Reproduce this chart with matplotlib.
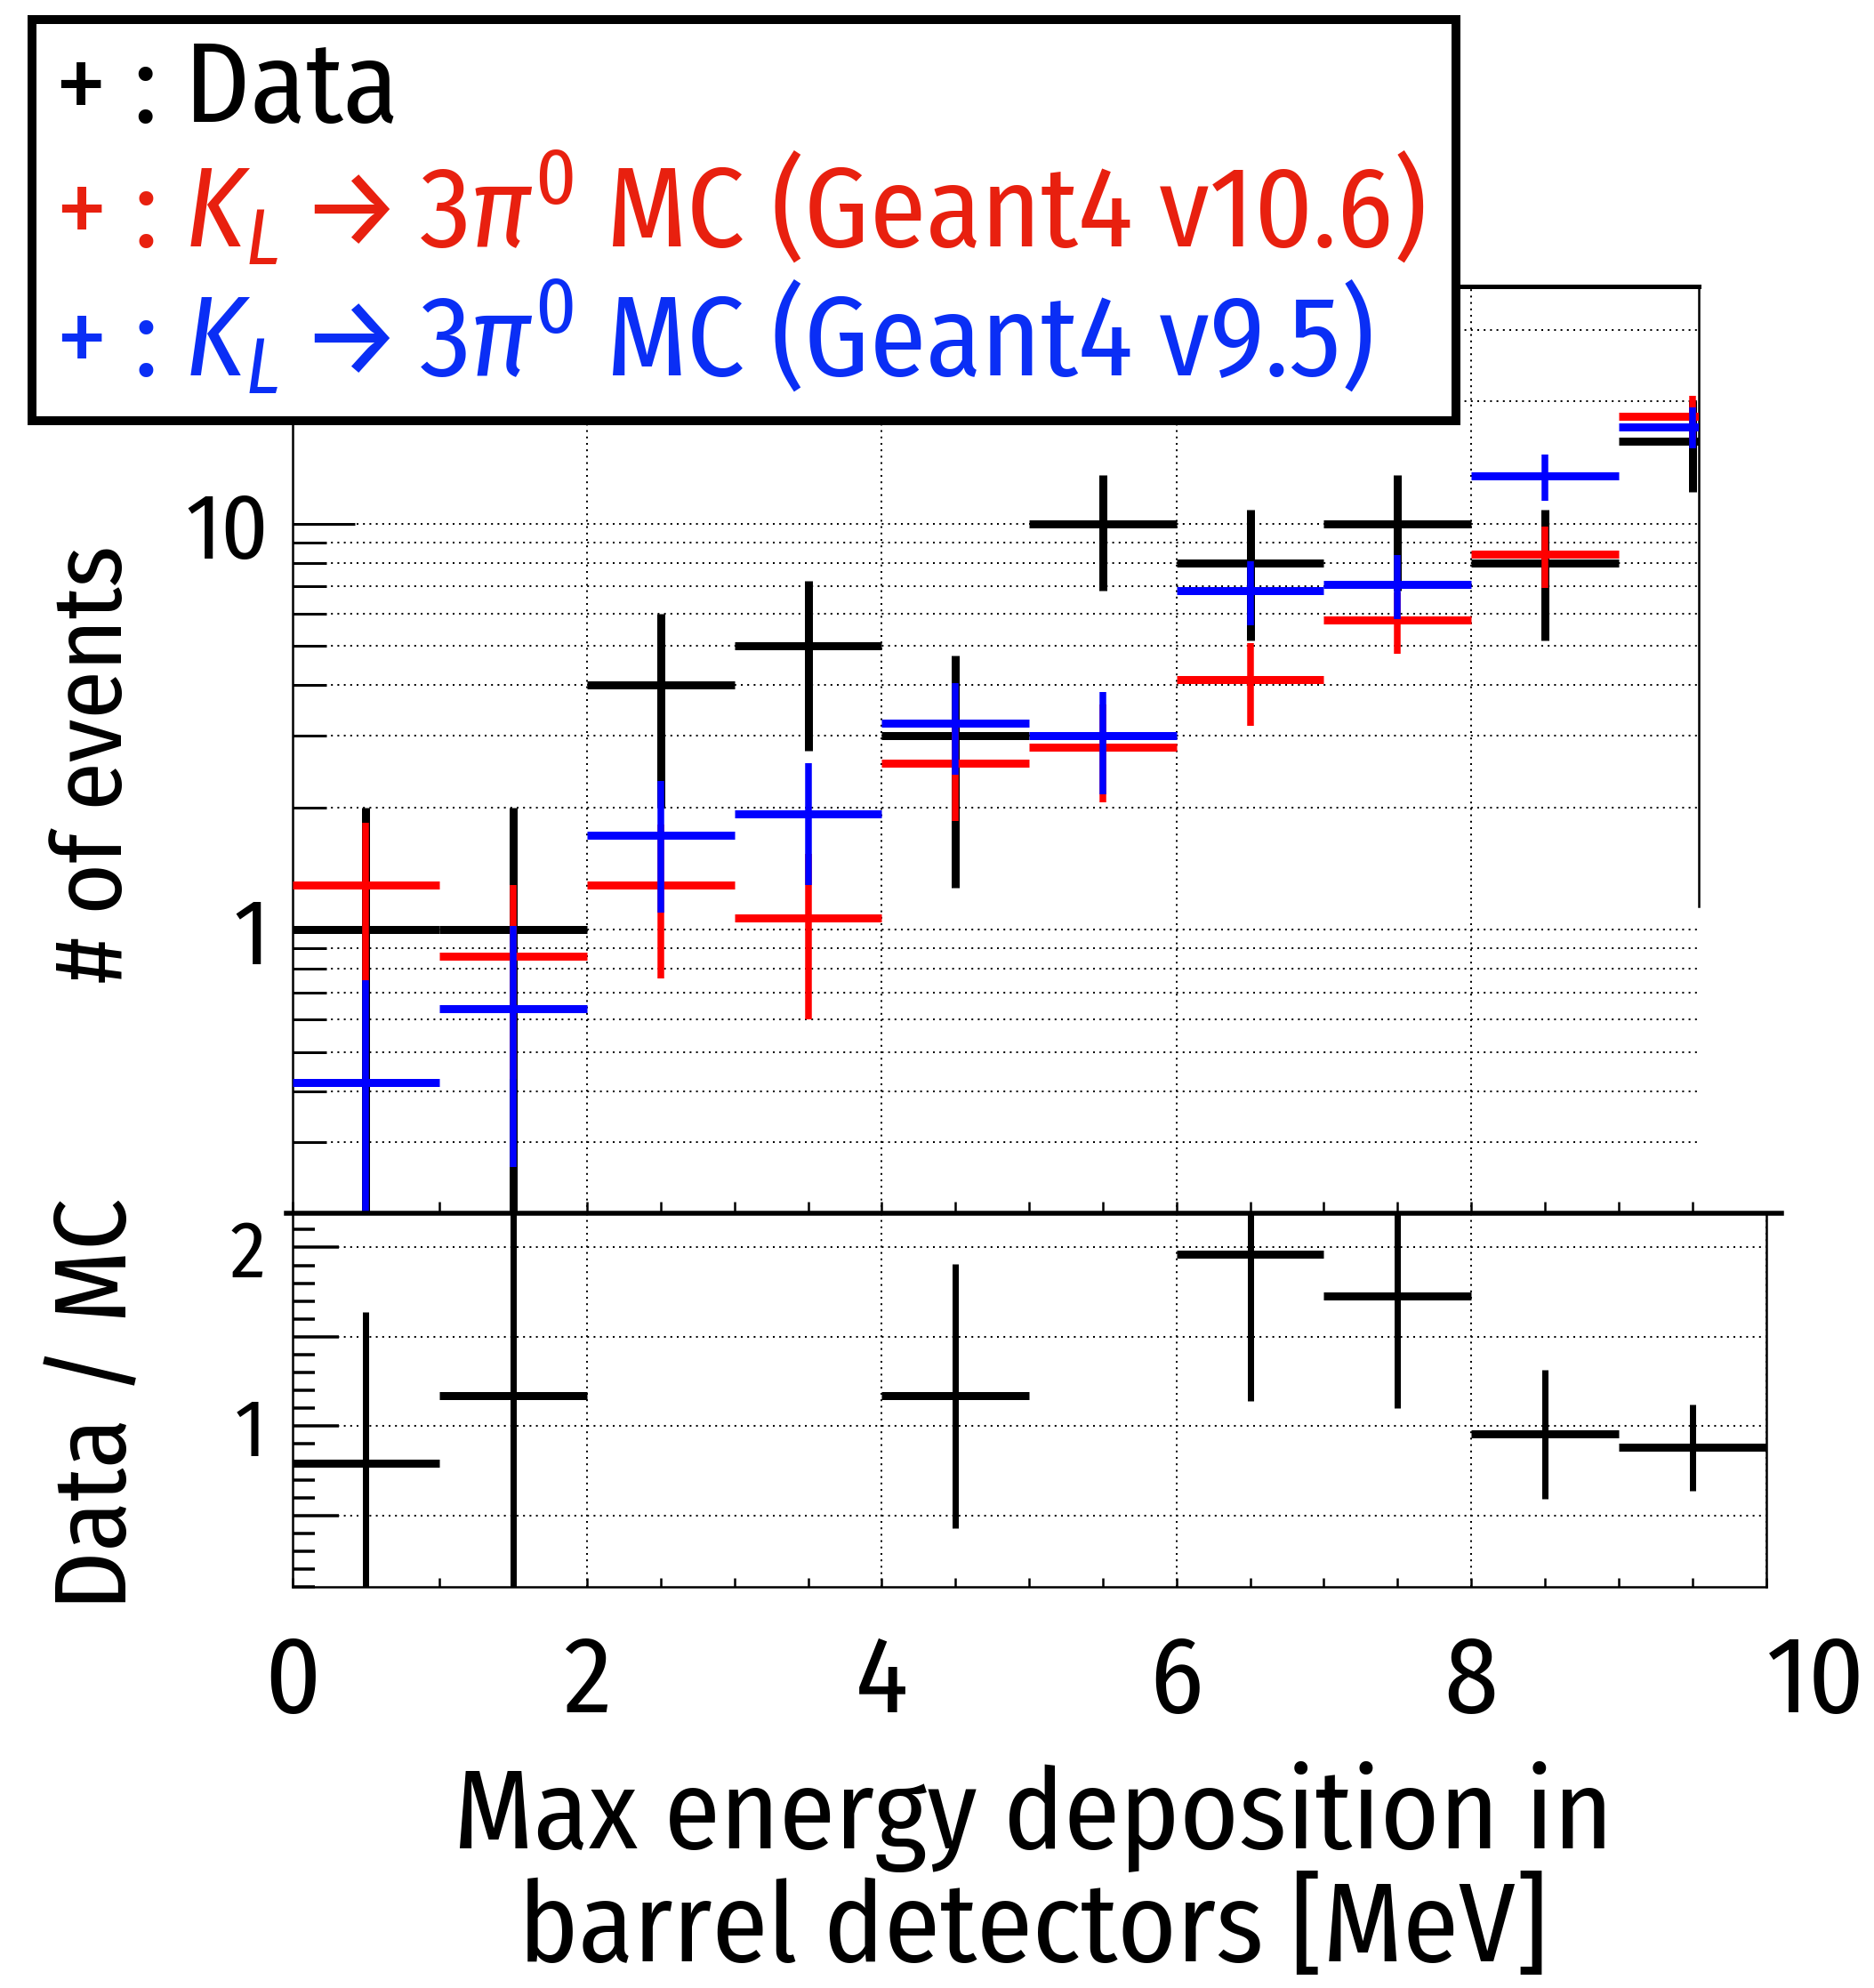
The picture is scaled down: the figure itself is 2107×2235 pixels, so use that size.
import matplotlib
matplotlib.use("Agg")
import matplotlib.pyplot as plt
from matplotlib import font_manager
from matplotlib.ticker import FixedLocator, MultipleLocator, LogLocator, NullFormatter, FuncFormatter
from matplotlib.patches import Rectangle
from matplotlib.lines import Line2D

# ---------------- data ----------------
bin_edges = [0, 1, 2, 3, 4, 5, 6, 7, 8, 9, 10]
data_counts = [1, 1, 4, 5, 3, 10, 8, 10, 8, 16]
data_err = [1.0, 1.0, 2.0, 2.24, 1.73, 3.16, 2.83, 3.16, 2.83, 4.0]
mc_v106 = [1.29, 0.86, 1.29, 1.07, 2.57, 2.82, 4.13, 5.78, 8.4, 18.4]
mc_v106_err = [0.54, 0.43, 0.53, 0.47, 0.72, 0.76, 0.95, 1.0, 1.45, 2.3]
mc_v95 = [0.42, 0.64, 1.71, 1.93, 3.23, 3.0, 6.84, 7.08, 13.1, 17.3]
mc_v95_err = [0.33, 0.38, 0.61, 0.64, 0.82, 0.84, 1.23, 1.27, 1.7, 2.0]
ratio_bins = [0, 1, 4, 6, 7, 8, 9]          # bin indices with a visible ratio point
ratio_vals = [0.79, 1.17, 1.17, 1.96, 1.73, 0.955, 0.88]
ratio_err = [0.85, 1.25, 0.74, 0.82, 0.63, 0.36, 0.24]
legend_labels = ["+ : Data",
                 r"+ : $K_L \rightarrow 3\pi^0$ MC (Geant4 v10.6)",
                 r"+ : $K_L \rightarrow 3\pi^0$ MC (Geant4 v9.5)"]
xlabel_lines = ["Max energy deposition in", "barrel detectors [MeV]"]
ylabel_top = "# of events"
ylabel_ratio = "Data / MC"

# ---------------- fonts ----------------
names = {f.name for f in font_manager.fontManager.ttflist}
FONT = "DejaVu Sans"
for cand in ["Fira Sans Condensed", "Encode Sans Semi Condensed", "Liberation Sans Narrow"]:
    if cand in names:
        FONT = cand
        break
plt.rcParams["font.family"] = [FONT, "DejaVu Sans"]
plt.rcParams["font.weight"] = "normal"
plt.rcParams["mathtext.fontset"] = "custom"
plt.rcParams["mathtext.rm"] = FONT
plt.rcParams["mathtext.it"] = FONT + ":italic"
plt.rcParams["mathtext.bf"] = FONT + ":bold"

W, H, DPI = 2107, 2235, 100
fig = plt.figure(figsize=(W / DPI, H / DPI), dpi=DPI)


def pt(p):
    return p * 72.0 / DPI


def fx(x):
    return x / W


def fy(y):
    return 1 - y / H


X0, X10 = 328.6, 1985.5
TOP_T, MID, BOT = 322.0, 1364.3, 1784.0
TOP_R = 1910.0
unit = (X10 - X0) / 10.0

ax = fig.add_axes([fx(X0), fy(MID), fx(TOP_R - X0), (MID - TOP_T) / H])
axr = fig.add_axes([fx(X0), fy(BOT), fx(X10 - X0), (BOT - MID) / H])

centers = [(a + b) / 2 for a, b in zip(bin_edges[:-1], bin_edges[1:])]
lefts = bin_edges[:-1]
rights = bin_edges[1:]

grid_kw = dict(color="black", lw=pt(2.0), ls=(0, (1.0, 2.6)))


def draw(axis, xs, x0s, x1s, vals, errs, color, lwh, lwv, z):
    lo = [max(v - e, 1e-4) for v, e in zip(vals, errs)]
    hi = [v + e for v, e in zip(vals, errs)]
    axis.vlines(xs, lo, hi, colors=color, lw=pt(lwv), zorder=z)
    axis.hlines(vals, x0s, x1s, colors=color, lw=pt(lwh), zorder=z)


# ---- top panel ----
ax.set_yscale("log")
ax.set_xlim(0, (TOP_R - X0) / unit)
ax.set_ylim(0.2, 38.4)
draw(ax, centers, lefts, rights, data_counts, data_err, "black", 9, 9, 3)
draw(ax, centers, lefts, rights, mc_v106, mc_v106_err, "#ff0000", 9, 7.5, 4)
draw(ax, centers, lefts, rights, mc_v95, mc_v95_err, "#0000ff", 9, 7.5, 5)

ax.yaxis.set_major_locator(LogLocator(base=10, subs=(1.0,)))
ax.yaxis.set_minor_locator(LogLocator(base=10, subs=(2, 3, 4, 5, 6, 7, 8, 9)))
ax.yaxis.set_major_formatter(FuncFormatter(lambda v, p: f"{v:g}"))
ax.yaxis.set_minor_formatter(NullFormatter())
ax.xaxis.set_major_locator(MultipleLocator(2))
ax.xaxis.set_minor_locator(MultipleLocator(0.5))
ax.xaxis.set_major_formatter(NullFormatter())
ax.tick_params(axis="y", which="major", direction="in", length=pt(70), width=pt(3),
               left=True, right=False, labelsize=pt(103), pad=pt(26))
ax.tick_params(axis="y", which="minor", direction="in", length=pt(38), width=pt(3),
               left=True, right=False)
ax.tick_params(axis="x", which="both", direction="in", length=pt(13), width=pt(2.5),
               bottom=True, top=False, labelbottom=False)
ax.grid(True, axis="y", which="both", **grid_kw)
ax.grid(True, axis="x", which="major", **grid_kw)
ax.set_axisbelow(True)
ax.spines["bottom"].set_visible(False)
ax.spines["left"].set_linewidth(pt(2.5))
ax.spines["top"].set_linewidth(pt(5))
ax.spines["right"].set_linewidth(pt(2.5))
ax.spines["right"].set_bounds(1.14, 38.4)

# ---- ratio panel ----
axr.set_xlim(0, 10)
axr.set_ylim(0.1, 2.19)
rc = [centers[i] for i in ratio_bins]
rl = [lefts[i] for i in ratio_bins]
rr = [rights[i] for i in ratio_bins]
draw(axr, rc, rl, rr, ratio_vals, ratio_err, "black", 9, 7, 3)
axr.yaxis.set_major_locator(FixedLocator([0.5, 1.0, 1.5, 2.0]))
axr.yaxis.set_major_formatter(FuncFormatter(lambda v, p: f"{v:g}" if abs(v - round(v)) < 1e-6 else ""))
axr.yaxis.set_minor_locator(MultipleLocator(0.1))
axr.xaxis.set_major_locator(MultipleLocator(2))
axr.xaxis.set_major_formatter(FuncFormatter(lambda v, p: f"{v:g}"))
axr.xaxis.set_minor_locator(MultipleLocator(0.5))
axr.tick_params(axis="y", which="major", direction="in", length=pt(52), width=pt(3.5),
                left=True, right=False, labelsize=pt(90), pad=pt(30))
axr.tick_params(axis="y", which="minor", direction="in", length=pt(25), width=pt(3.5),
                left=True, right=False)
axr.tick_params(axis="x", which="both", direction="in", length=pt(10), width=pt(2.5),
                bottom=True, top=False, labelsize=pt(122), pad=pt(50))
axr.grid(True, axis="y", which="major", **grid_kw)
axr.grid(True, axis="x", which="major", **grid_kw)
axr.set_axisbelow(True)
axr.spines["top"].set_visible(False)
for s in ["left", "right", "bottom"]:
    axr.spines[s].set_linewidth(pt(2.5))

# thick separator line between the panels
fig.add_artist(Line2D([fx(322), fx(2003)], [fy(MID), fy(MID)], transform=fig.transFigure,
                      color="black", lw=pt(5.5), zorder=20))
# legend box
fig.add_artist(Rectangle((fx(36), fy(473)), fx(1637 - 36), (473 - 22) / H,
                         transform=fig.transFigure, facecolor="white",
                         edgecolor="black", lw=pt(10), zorder=30))

fig.canvas.draw()
renderer = fig.canvas.get_renderer()
for tk in axr.xaxis.get_major_ticks():
    if abs(tk.get_loc() - 10) < 1e-6:
        tk.label1.set_horizontalalignment("left")

leg_colors = ["black", "#e8200f", "#0a2ef5"]
leg_base = [137, 278, 423]
leg_texts = []
for lab, col, yb in zip(legend_labels, leg_colors, leg_base):
    t = fig.text(fx(62), fy(yb), lab, color=col, fontsize=pt(100), ha="left", va="baseline", zorder=31)
    leg_texts.append(t)
w = leg_texts[1].get_window_extent(renderer).width
fs = pt(100) * 1540.0 / w
for t in leg_texts:
    t.set_fontsize(fs)

xl1 = fig.text(fx(1162), fy(2078), xlabel_lines[0], fontsize=pt(110), ha="center", va="baseline")
xl2 = fig.text(fx(1162), fy(2205), xlabel_lines[1], fontsize=pt(110), ha="center", va="baseline")
w = xl1.get_window_extent(renderer).width
fs = pt(110) * 1303.0 / w
xl1.set_fontsize(fs)
xl2.set_fontsize(fs)

yl1 = fig.text(fx(107), fy(859), ylabel_top, fontsize=pt(100), rotation=90, ha="center", va="center")
h = yl1.get_window_extent(renderer).height
yl1.set_fontsize(pt(100) * 492.0 / h)
yl2 = fig.text(fx(111), fy(1578), ylabel_ratio, fontsize=pt(100), rotation=90, ha="center", va="center")
h = yl2.get_window_extent(renderer).height
yl2.set_fontsize(pt(100) * 463.0 / h)

fig.savefig("out.png", dpi=DPI, facecolor="white")
